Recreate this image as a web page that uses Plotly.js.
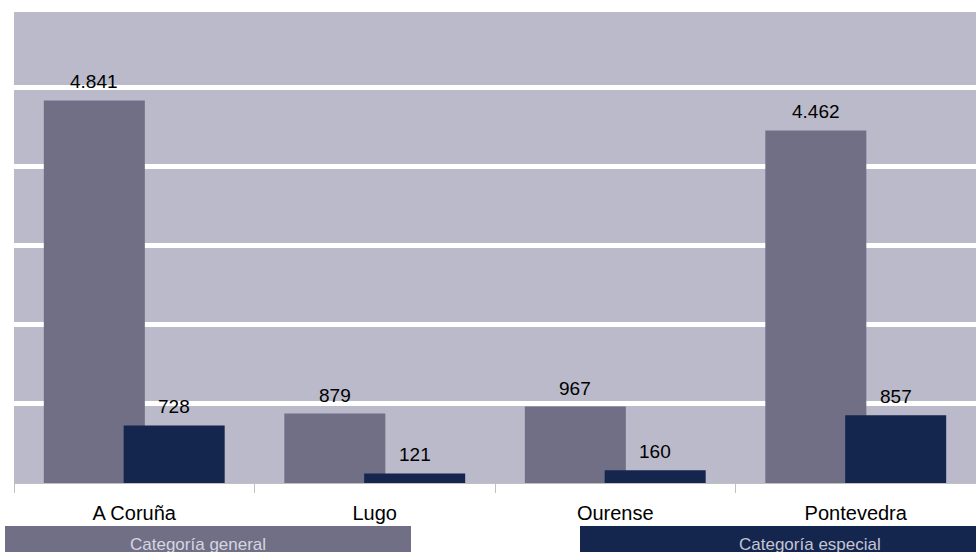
<!DOCTYPE html>
<html><head><meta charset="utf-8">
<script src="https://cdn.plot.ly/plotly-3.0.1.min.js"></script>
<style>html,body{margin:0;padding:0;background:#fff}#chart{width:976px;height:552px}</style>
</head><body><div id="chart"></div>
<script>
const categories = ["A Coruña", "Lugo", "Ourense", "Pontevedra"];
const generalValues = [4841, 879, 967, 4462];
const especialValues = [728, 121, 160, 857];
const seriesNames = ["Categoría general", "Categoría especial"];

const colGeneral = "#706f85";
const colEspecial = "#14254e";
const FONT = "Liberation Sans, Arial, sans-serif";

const fmt = v => v.toLocaleString("de-DE");

const traces = [
  {type: "bar", x: categories, y: generalValues, name: seriesNames[0],
   marker: {color: colGeneral}, width: 0.42, offset: -0.376, hoverinfo: "none"},
  {type: "bar", x: categories, y: especialValues, name: seriesNames[1],
   marker: {color: colEspecial}, width: 0.42, offset: -0.044, hoverinfo: "none"}
];

const annotations = [];
categories.forEach((c, i) => {
  annotations.push({x: c, y: generalValues[i], xref: "x", yref: "y", text: fmt(generalValues[i]),
    showarrow: false, yanchor: "bottom", xshift: -40, yshift: 6,
    font: {family: FONT, size: 19, color: "#000"}});
  annotations.push({x: c, y: especialValues[i], xref: "x", yref: "y", text: fmt(especialValues[i]),
    showarrow: false, yanchor: "bottom", xshift: 40, yshift: 6,
    font: {family: FONT, size: 19, color: "#000"}});
});
// legend-like labels (cut by the bottom edge as in the reference)
annotations.push({xref: "paper", yref: "paper", x: (198 - 14) / 962, y: (483 - 544) / 471,
  text: seriesNames[0], showarrow: false, xanchor: "center", yanchor: "middle",
  font: {family: FONT, size: 17, color: "#d6d6e0"}});
annotations.push({xref: "paper", yref: "paper", x: (810 - 14) / 962, y: (483 - 544) / 471,
  text: seriesNames[1], showarrow: false, xanchor: "center", yanchor: "middle",
  font: {family: FONT, size: 17, color: "#c4c6d4"}});

const shapes = [
  {type: "rect", xref: "paper", yref: "paper", layer: "below",
   x0: (5 - 14) / 962, x1: (411 - 14) / 962, y0: (483 - 526) / 471, y1: (483 - 560) / 471,
   fillcolor: colGeneral, line: {width: 0}},
  {type: "rect", xref: "paper", yref: "paper", layer: "below",
   x0: (580 - 14) / 962, x1: (990 - 14) / 962, y0: (483 - 526) / 471, y1: (483 - 560) / 471,
   fillcolor: colEspecial, line: {width: 0}}
];

const layout = {
  width: 976, height: 552,
  margin: {l: 14, r: 0, t: 12, b: 69},
  paper_bgcolor: "#ffffff",
  plot_bgcolor: "#bbbaca",
  barmode: "overlay",
  showlegend: false,
  font: {family: FONT, size: 16, color: "#000"},
  xaxis: {
    type: "category", showgrid: false, showline: true, linecolor: "#c0c0c0", linewidth: 1,
    ticks: "outside", tickson: "boundaries", ticklen: 9, tickcolor: "#c0c0c0",
    ticklabelstandoff: 12,
    tickfont: {family: FONT, size: 20, color: "#000"},
    fixedrange: true
  },
  yaxis: {
    range: [0, 5960], dtick: 1000, showticklabels: false, ticks: "",
    showgrid: true, gridcolor: "#ffffff", gridwidth: 5, zeroline: false, showline: false,
    fixedrange: true
  },
  annotations: annotations,
  shapes: shapes
};

Plotly.newPlot("chart", traces, layout, {displayModeBar: false, staticPlot: true});
</script></body></html>
